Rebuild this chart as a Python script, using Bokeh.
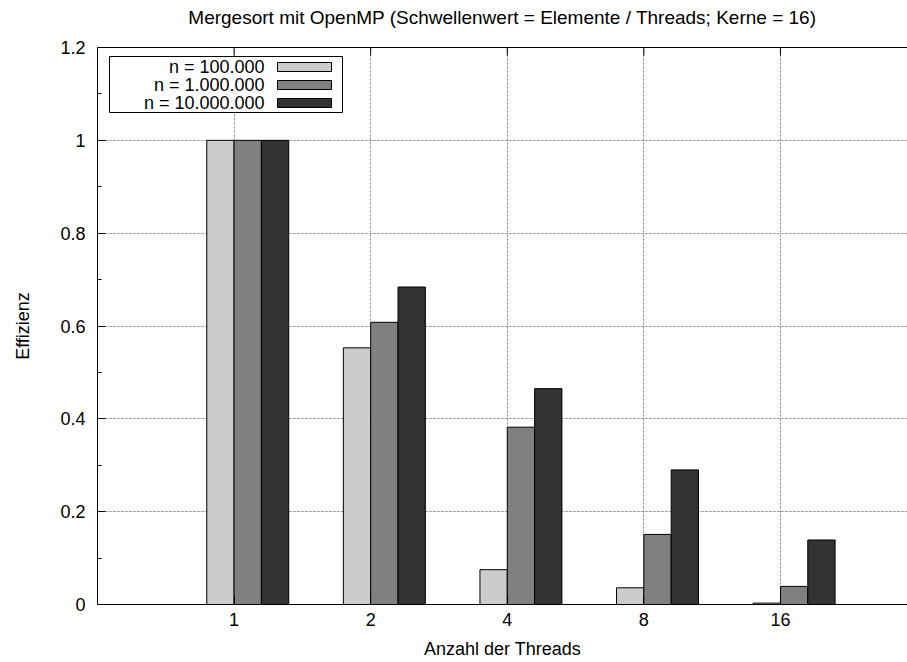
from bokeh.plotting import figure
from bokeh.models import Range1d, FixedTicker, LinearAxis, ColumnDataSource, Grid
from bokeh.embed import file_html
from bokeh.resources import INLINE
from bokeh.core.properties import value

# ---- data ----
thread_labels = ["1", "2", "4", "8", "16"]
n_100k = [1.0, 0.553, 0.075, 0.036, 0.003]
n_1m = [1.0, 0.608, 0.382, 0.151, 0.039]
n_10m = [1.0, 0.684, 0.465, 0.290, 0.139]
series_names = ["n = 100.000", "n = 1.000.000", "n = 10.000.000"]
series_colors = ["#cccccc", "#808080", "#333333"]
y_ticks = [0, 0.2, 0.4, 0.6, 0.8, 1.0, 1.2]
y_tick_labels = ["0", "0.2", "0.4", "0.6", "0.8", "1", "1.2"]
title_text = "Mergesort mit OpenMP (Schwellenwert = Elemente / Threads; Kerne = 16)"

FONT = "Liberation Sans"
FS = "18px"

W, H = 907, 662
L, R, T, B = 97, 0, 47, 58
x0, x1 = -1.0, 4.93
y0, y1 = 0.0, 1.2
fw, fh = W - L - R, H - T - B

def px2x(px):
    return x0 + (px - L) / fw * (x1 - x0)

def py2y(py):
    return y1 - (py - T) / fh * (y1 - y0)

p = figure(width=W, height=H, output_backend="svg", toolbar_location=None,
           x_range=Range1d(x0, x1), y_range=Range1d(y0, y1),
           min_border_left=L, min_border_right=R, min_border_top=T, min_border_bottom=B,
           x_axis_location=None, y_axis_location=None)
p.outline_line_color = None
p.background_fill_color = "white"
p.border_fill_color = "white"

# grid
gx = Grid(dimension=0, ticker=FixedTicker(ticks=list(range(len(thread_labels)))))
gy = Grid(dimension=1, ticker=FixedTicker(ticks=y_ticks[1:-1]))
for g in (gx, gy):
    g.grid_line_color = "#8a8a8a"
    g.grid_line_dash = "2 2"
    g.grid_line_width = 1
    g.level = "underlay"
p.add_layout(gx)
p.add_layout(gy)

pos = list(range(len(thread_labels)))
offsets = [-0.1, 0.1, 0.3]
for vals, off, col in zip([n_100k, n_1m, n_10m], offsets, series_colors):
    src = ColumnDataSource(dict(x=[q + off for q in pos], top=vals))
    p.vbar(x="x", top="top", width=0.2, bottom=0, source=src,
           fill_color=col, line_color="black", line_width=1)

# axes
xb = LinearAxis(ticker=FixedTicker(ticks=pos),
                major_label_overrides={q: s for q, s in zip(pos, thread_labels)})
xb.axis_label = "Anzahl der Threads"
yl = LinearAxis(ticker=FixedTicker(ticks=y_ticks, minor_ticks=[0.1, 0.3, 0.5, 0.7, 0.9, 1.1]),
                major_label_overrides={t: s for t, s in zip(y_ticks, y_tick_labels)})
yl.axis_label = "Effizienz"
# top border axis carrying the chart title as its label
xt = LinearAxis(ticker=FixedTicker(ticks=[]))
xt.axis_label = title_text
for ax in (xb, yl, xt):
    ax.axis_line_color = "black"
    ax.axis_line_width = 1
    ax.major_tick_in = 8
    ax.major_tick_out = 0
    ax.minor_tick_in = 4
    ax.minor_tick_out = 0
    ax.major_tick_line_color = "black"
    ax.minor_tick_line_color = "black"
    ax.major_label_text_font = FONT
    ax.major_label_text_font_size = FS
    ax.axis_label_text_font = FONT
    ax.axis_label_text_font_style = "normal"
    ax.axis_label_text_font_size = FS
    ax.major_label_text_color = "black"
    ax.axis_label_text_color = "black"
xb.major_label_standoff = 8
xb.axis_label_standoff = 10
yl.major_label_standoff = 12
yl.axis_label_standoff = 24
xt.major_tick_in = 0
xt.minor_tick_in = 0
xt.major_label_standoff = 0
xt.axis_label_standoff = 20
xt.axis_label_text_font_size = "19px"
p.add_layout(xb, "below")
p.add_layout(yl, "left")
p.add_layout(xt, "above")

# mirrored ticks on the top border
p.segment(x0=pos, y0=[y1] * len(pos), x1=pos, y1=[py2y(T + 8)] * len(pos),
          line_color="black", line_width=1)

# manual gnuplot-style legend (text left, swatch right)
p.quad(left=[px2x(109)], right=[px2x(342)], top=[py2y(56)], bottom=[py2y(112)],
       fill_color="white", line_color="black", line_width=1)
row_py = [66.5, 84.5, 102.5]
p.text(x=[px2x(264)] * 3, y=[py2y(r) for r in row_py], text=series_names,
       text_align="right", text_baseline="middle",
       text_font=value(FONT), text_font_size=FS, text_color="black")
p.quad(left=[px2x(277)] * 3, right=[px2x(331)] * 3,
       top=[py2y(r - 4.5) for r in row_py], bottom=[py2y(r + 4.5) for r in row_py],
       fill_color=series_colors, line_color="black", line_width=1)

open("out.html", "w").write(file_html(p, INLINE))
